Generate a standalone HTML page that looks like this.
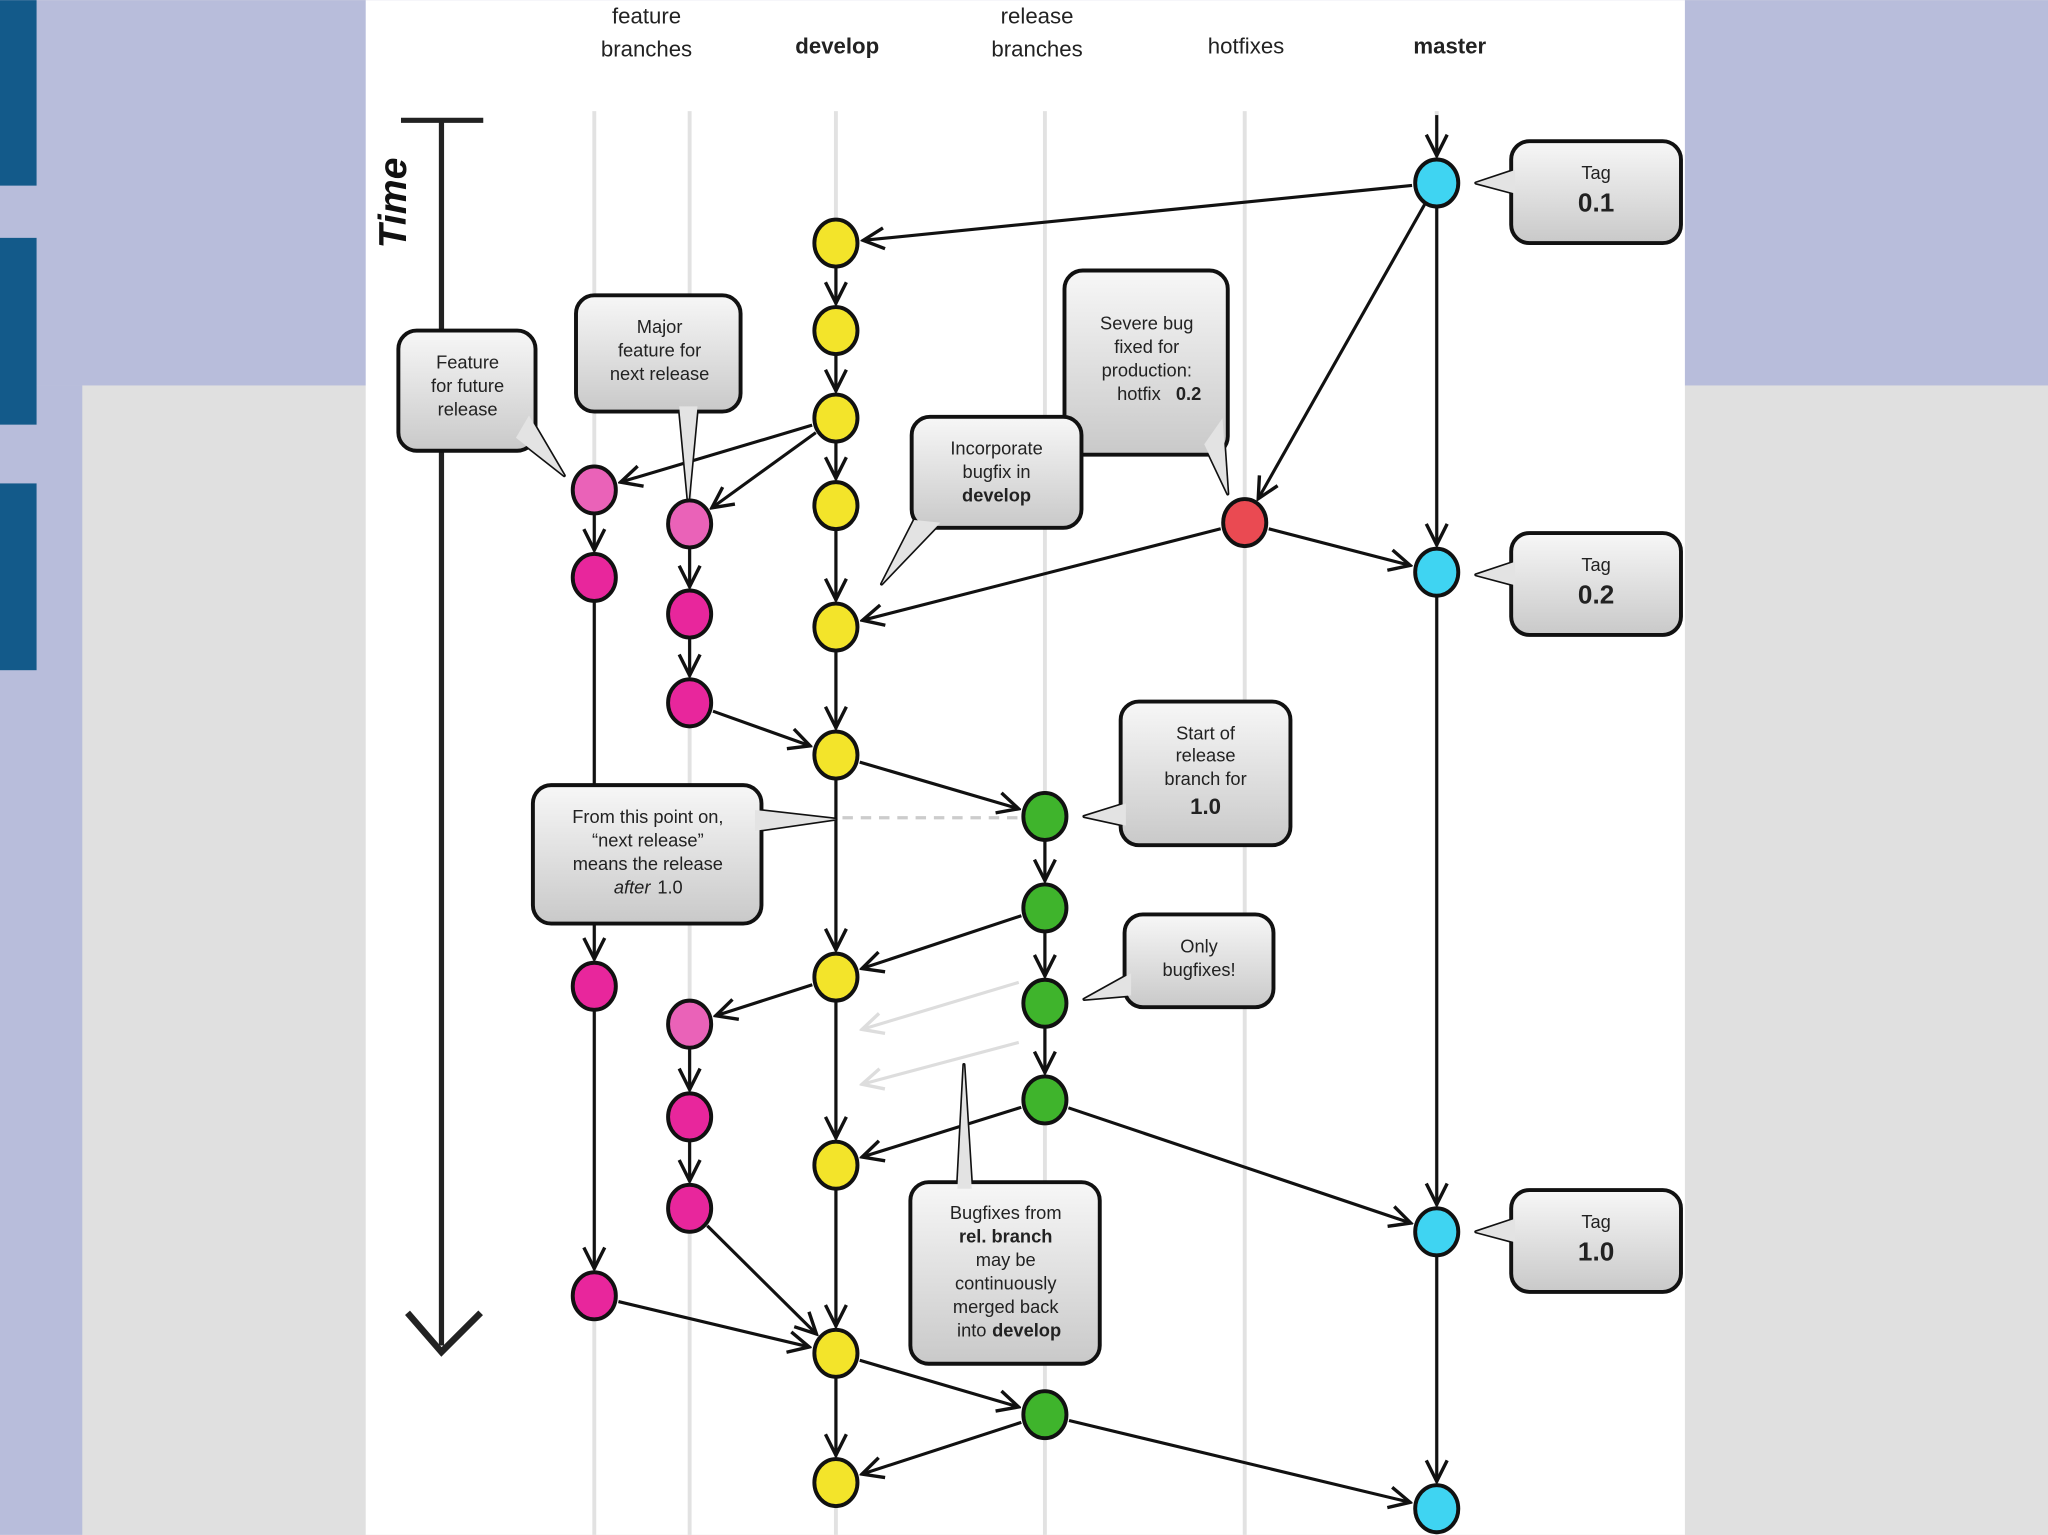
<!DOCTYPE html>
<html><head><meta charset="utf-8">
<style>
html,body{margin:0;padding:0;width:2048px;height:1535px;overflow:hidden;background:#e0e0e0}
svg{display:block}
text{font-family:"Liberation Sans",sans-serif}
</style></head>
<body>
<svg id="s" width="2048" height="1535" viewBox="0 0 1568 1175" xmlns="http://www.w3.org/2000/svg">
<defs>
<linearGradient id="cg" x1="0" y1="0" x2="0" y2="1">
<stop offset="0" stop-color="#f7f7f7"/><stop offset="1" stop-color="#c9c9c9"/>
</linearGradient>
<marker id="ah" viewBox="0 0 20 20" refX="18" refY="10" markerWidth="20" markerHeight="20" markerUnits="userSpaceOnUse" orient="auto">
<path d="M2,2 L18,10 L2,18" fill="none" stroke="#111" stroke-width="2.6"/>
</marker>
<marker id="ahg" viewBox="0 0 20 20" refX="18" refY="10" markerWidth="20" markerHeight="20" markerUnits="userSpaceOnUse" orient="auto">
<path d="M2,2 L18,10 L2,18" fill="none" stroke="#ddd" stroke-width="2.6"/>
</marker>
</defs>
<rect x="0" y="0" width="1568" height="1175" fill="#e0e0e0"/>
<rect x="0" y="0" width="1568" height="295" fill="#b8bddb"/>
<rect x="0" y="295" width="63" height="880" fill="#b8bddb"/>
<rect x="0" y="0" width="28" height="142" fill="#135a8a"/>
<rect x="0" y="182" width="28" height="143" fill="#135a8a"/>
<rect x="0" y="370" width="28" height="143" fill="#135a8a"/>
<rect x="280" y="0" width="1010" height="1175" fill="#fff"/>
<g id="lanes" stroke="#e2e2e2" stroke-width="3"></g>
<g font-size="17" fill="#222" text-anchor="middle">
<text x="495" y="18">feature</text><text x="495" y="43">branches</text>
<text x="641" y="41" font-weight="bold">develop</text>
<text x="794" y="18">release</text><text x="794" y="43">branches</text>
<text x="954" y="41">hotfixes</text>
<text x="1110" y="41" font-weight="bold">master</text>
</g>
<!-- time axis -->
<line x1="307" y1="92" x2="370" y2="92" stroke="#222" stroke-width="4"/>
<line x1="338" y1="92" x2="338" y2="1030" stroke="#222" stroke-width="4"/>
<path d="M312,1005 L338,1035 L368,1005" fill="none" stroke="#222" stroke-width="5"/>
<text transform="translate(311,190) rotate(-90)" font-size="30" font-weight="bold" font-style="italic" fill="#111">Time</text>
<g id="edges"></g>
<g id="callouts"></g>
<g id="nodes"></g>
</svg>
<script>
var NS="http://www.w3.org/2000/svg";
function el(p,t,a,txt){var e=document.createElementNS(NS,t);for(var k in a)e.setAttribute(k,a[k]);if(txt!==undefined)e.textContent=txt;document.getElementById(p).appendChild(e);return e;}
[455,528,640,800,953,1100].forEach(function(x){el('lanes','line',{x1:x,y1:85,x2:x,y2:1175});});
var C={f1:455,f2:528,d:640,r:800,h:953,m:1100};
var col={cy:'#3fd4f2',ye:'#f3e42a',lp:'#ea62b8',mg:'#e8269c',gr:'#3fb42c',rd:'#ea4a52'};
var N={};
function n(id,c,y,k){N[id]=[C[c],y,col[k]];}
n('m1','m',140,'cy');n('m2','m',438,'cy');n('m3','m',943,'cy');n('m4','m',1155,'cy');
[186,253,320,387,480,578,748,892,1036,1135].forEach(function(y,i){n('d'+i,'d',y,'ye');});
n('a1','f1',375,'lp');n('a2','f1',442,'mg');n('a3','f1',755,'mg');n('a4','f1',992,'mg');
n('b1','f2',401,'lp');n('b2','f2',470,'mg');n('b3','f2',538,'mg');n('b4','f2',784,'lp');n('b5','f2',855,'mg');n('b6','f2',925,'mg');
n('r1','r',625,'gr');n('r2','r',695,'gr');n('r3','r',768,'gr');n('r4','r',842,'gr');n('r5','r',1083,'gr');
n('h1','h',400,'rd');
function edge(a,b,g){var A=N[a],B=N[b];var dx=B[0]-A[0],dy=B[1]-A[1],L=Math.sqrt(dx*dx+dy*dy);
 var s=19;el('edges','line',{x1:A[0]+dx/L*s,y1:A[1]+dy/L*s,x2:B[0]-dx/L*(s+2),y2:B[1]-dy/L*(s+2),stroke:g?'#ddd':'#111','stroke-width':2.4,'marker-end':g?'url(#ahg)':'url(#ah)'});}
// master top arrow
el('edges','line',{x1:1100,y1:88,x2:1100,y2:119,stroke:'#111','stroke-width':2.4,'marker-end':'url(#ah)'});
[['m1','d0'],['m1','h1'],['h1','m2'],['h1','d4'],['m1','m2'],['m2','m3'],['m3','m4'],
['d0','d1'],['d1','d2'],['d2','d3'],['d3','d4'],['d4','d5'],['d5','d6'],['d6','d7'],['d7','d8'],['d8','d9'],
['d2','a1'],['d2','b1'],['a1','a2'],['a2','a3'],['a3','a4'],['b1','b2'],['b2','b3'],['b3','d5'],
['d5','r1'],['r1','r2'],['r2','r3'],['r3','r4'],['r2','d6'],['r4','d7'],['r4','m3'],['d6','b4'],['b4','b5'],['b5','b6'],['b6','d8'],['a4','d8'],
['d8','r5'],['r5','d9'],['r5','m4']].forEach(function(e){edge(e[0],e[1]);});
el('edges','line',{x1:780,y1:752,x2:660,y2:788,stroke:'#ddd','stroke-width':2.4,'marker-end':'url(#ahg)'});
el('edges','line',{x1:780,y1:798,x2:660,y2:830,stroke:'#ddd','stroke-width':2.4,'marker-end':'url(#ahg)'});
el('edges','line',{x1:645,y1:626,x2:780,y2:626,stroke:'#ccc','stroke-width':2.5,'stroke-dasharray':'8,6'});
for(var k in N){var v=N[k];el('nodes','ellipse',{cx:v[0],cy:v[1],rx:16.5,ry:18,fill:v[2],stroke:'#111','stroke-width':3});}
function callout(x1,y1,x2,y2,ptr,lines){
 el('callouts','polygon',{points:ptr.map(function(p){return p.join(',')}).join(' '),fill:'#e6e6e6',stroke:'#111','stroke-width':2.5,'stroke-linejoin':'round'});
 el('callouts','rect',{x:x1,y:y1,width:x2-x1,height:y2-y1,rx:14,fill:'url(#cg)',stroke:'#111','stroke-width':3});
 el('callouts','polygon',{points:ptr.map(function(p){return p.join(',')}).join(' '),fill:'#e3e3e3',stroke:'none'});
 lines.forEach(function(l){var t=el('callouts','text',{x:l[0],y:l[1],'font-size':l[3]||14,'text-anchor':'middle',fill:'#222','font-weight':l[4]||'normal','font-style':l[5]||'normal'},l[2]);});
}
function tag(y,num){callout(1157,y,1287,y+78,[[1160,y+22],[1130,y+32],[1160,y+40]],[[1222,y+29,'Tag',14],[1222,y+54,num,20,'bold']]);}
tag(108,'0.1');tag(408,'0.2');tag(911,'1.0');
callout(305,253,410,345,[[395,335],[432,364],[405,318]],[[358,282,'Feature'],[358,300,'for future'],[358,318,'release']]);
callout(441,226,567,315,[[520,311],[527,385],[534,311]],[[505,255,'Major'],[505,273,'feature for'],[505,291,'next release']]);
callout(815,207,940,348,[[922,340],[940,378],[936,320]],[[878,252,'Severe bug'],[878,270,'fixed for'],[878,288,'production:'],[872,306,'hotfix'],[910,306,'0.2',14,'bold']]);
callout(698,319,828,404,[[700,398],[675,447],[720,400]],[[763,348,'Incorporate'],[763,366,'bugfix in'],[763,384,'develop',14,'bold']]);
callout(858,537,988,647,[[862,615],[830,625],[862,632]],[[923,566,'Start of'],[923,583,'release'],[923,601,'branch for'],[923,623,'1.0',17,'bold']]);
callout(408,601,583,707,[[578,620],[640,627],[578,636]],[[496,630,'From this point on,'],[496,648,'“next release”'],[496,666,'means the release'],[484,684,'after',14,'normal','italic'],[513,684,'1.0']]);
callout(861,700,975,771,[[866,745],[830,765],[866,762]],[[918,729,'Only'],[918,747,'bugfixes!']]);
callout(697,905,842,1044,[[733,910],[738,815],[744,910]],[[770,933,'Bugfixes from'],[770,951,'rel. branch',14,'bold'],[770,969,'may be'],[770,987,'continuously'],[770,1005,'merged back'],[744,1023,'into'],[786,1023,'develop',14,'bold']]);
</script>
</body></html>
